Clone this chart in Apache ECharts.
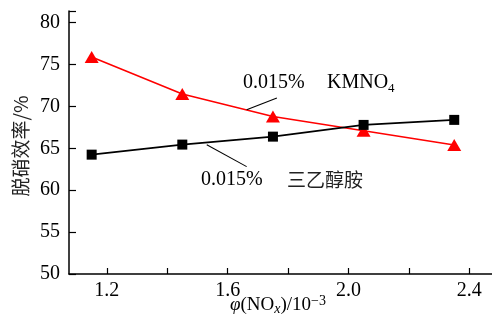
<!DOCTYPE html>
<html>
<head>
<meta charset="utf-8">
<script src="https://cdn.jsdelivr.net/npm/echarts@6/dist/echarts.min.js"></script>
<style>html,body{margin:0;padding:0;background:#fff}#c{width:492px;height:320px}</style>
</head>
<body>
<div id="c"></div>
<script>
const xValues = [1.15, 1.45, 1.75, 2.05, 2.35];
const kmno4 = [75.9, 71.5, 68.8, 67.1, 65.4];
const tea = [64.25, 65.45, 66.4, 67.8, 68.4];
const xTicks = [1.2, 1.4, 1.6, 1.8, 2.0, 2.2, 2.4];
const xLabels = [1.2, 1.6, 2.0, 2.4];
const yLabels = [50, 55, 60, 65, 70, 75, 80];
const xMin = 1.075, xMax = 2.475, yMin = 50, yMax = 81.4;
// leader lines [x1,y1,x2,y2] in data units
const leaderKm = [1.763, 71.0, 1.663, 69.6];
const leaderTea = [1.531, 65.42, 1.663, 62.82];

const serif = '"Liberation Serif","DejaVu Serif",serif';
const cjk = '"Noto Sans CJK SC",sans-serif';

const chart = echarts.init(document.getElementById('c'), null, {renderer: 'canvas'});
const pairs = arr => xValues.map((x, i) => [x, arr[i]]);

chart.setOption({
  animation: false,
  backgroundColor: '#fff',
  grid: {left: 69, right: 0, top: 11, bottom: 46, containLabel: false},
  xAxis: {
    type: 'value', min: xMin, max: xMax,
    axisLine: {show: true, onZero: false, lineStyle: {color: '#000', width: 1.5}},
    axisTick: {show: true, inside: true, length: 6, customValues: xTicks, lineStyle: {color: '#000', width: 1.2}},
    axisLabel: {customValues: xLabels, color: '#000', fontFamily: serif, fontSize: 20, margin: 7,
      formatter: v => Number(v).toFixed(1)},
    splitLine: {show: false}
  },
  yAxis: {
    type: 'value', min: yMin, max: yMax,
    axisLine: {show: true, onZero: false, lineStyle: {color: '#000', width: 1.5}},
    axisTick: {show: true, inside: true, length: 7, customValues: yLabels.concat([yMax]), lineStyle: {color: '#000', width: 1.2}},
    axisLabel: {customValues: yLabels, color: '#000', fontFamily: serif, fontSize: 20, margin: 9,
      formatter: v => String(Math.round(v))},
    splitLine: {show: false}
  },
  series: [
    {
      name: 'KMNO4', type: 'line', data: pairs(kmno4),
      symbol: 'triangle', symbolSize: [14, 12],
      lineStyle: {color: '#ff0000', width: 1.6},
      itemStyle: {color: '#ff0000'},
      markLine: {
        silent: true, symbol: 'none', label: {show: false},
        lineStyle: {color: '#000', width: 1.1, type: 'solid'},
        data: [[{coord: [leaderKm[0], leaderKm[1]]}, {coord: [leaderKm[2], leaderKm[3]]}]]
      },
      z: 3
    },
    {
      name: '三乙醇胺', type: 'line', data: pairs(tea),
      symbol: 'rect', symbolSize: 10,
      lineStyle: {color: '#000', width: 1.6},
      itemStyle: {color: '#000'},
      markLine: {
        silent: true, symbol: 'none', label: {show: false},
        lineStyle: {color: '#000', width: 1.1, type: 'solid'},
        data: [[{coord: [leaderTea[0], leaderTea[1]]}, {coord: [leaderTea[2], leaderTea[3]]}]]
      },
      z: 4
    }
  ],
  graphic: [
    {type: 'text', left: 243, top: 73, style: {text: '0.015%', font: '20px ' + serif, fill: '#000'}},
    {type: 'text', left: 327, top: 73, style: {
      text: '{a|KMNO}{s|4}', fill: '#000',
      rich: {a: {font: '20px ' + serif, fill: '#000', verticalAlign: 'bottom'},
             s: {font: '13px ' + serif, fill: '#000', verticalAlign: 'bottom', padding: [0, 0, -2, 0]}}
    }},
    {type: 'text', left: 201, top: 170, style: {text: '0.015%', font: '20px ' + serif, fill: '#000'}},
    {type: 'text', left: 287, top: 170, style: {text: '三乙醇胺', font: '19px ' + cjk, fill: '#222'}},
    {type: 'text', x: 21, y: 146, rotation: Math.PI / 2, style: {
      text: '脱硝效率/%', font: '19px ' + cjk, fill: '#222', align: 'center', verticalAlign: 'middle'}},
    {type: 'text', x: 278, y: 305, style: {
      text: '{i|φ}{n|(NO}{ix|x}{n|)/10}{sup|−3}', align: 'center', verticalAlign: 'middle', fill: '#000',
      rich: {
        i: {font: 'italic 19px ' + serif, fill: '#000'},
        n: {font: '19px ' + serif, fill: '#000'},
        ix: {font: 'italic 14px ' + serif, fill: '#000', verticalAlign: 'bottom', padding: [6, 0, 0, 0]},
        sup: {font: '14px ' + serif, fill: '#000', verticalAlign: 'top', padding: [0, 0, 8, 0]}
      }
    }}
  ]
});
</script>
</body>
</html>
